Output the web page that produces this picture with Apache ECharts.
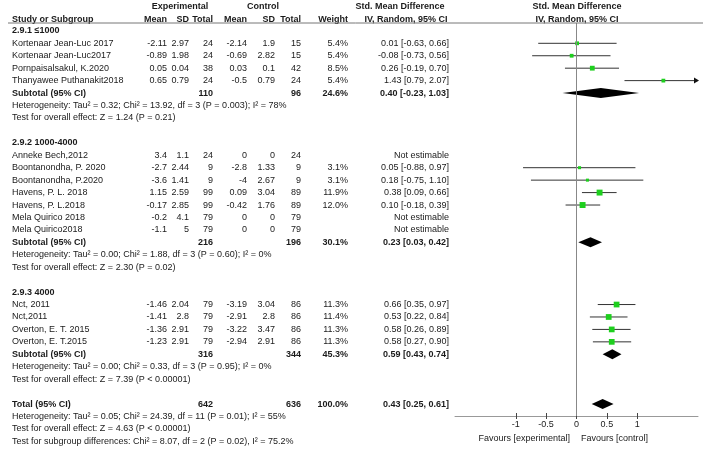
<!DOCTYPE html>
<html><head><meta charset="utf-8">
<script src="https://cdn.jsdelivr.net/npm/echarts@6/dist/echarts.min.js"></script>
<style>html,body{margin:0;padding:0;background:#fff}#c{width:708px;height:453px}</style>
</head><body><div id="c"></div>
<script>
// ---------------- data ----------------
const groupTitles = ['2.9.1 \u22641000', '2.9.2 1000-4000', '2.9.3 4000'];
const studyGroup = [0,0,0,0,1,1,1,1,1,1,1,2,2,2,2];
const studyNames = ['Kortenaar Jean-Luc 2017','Kortenaar Jean-Luc2017','Pornpaisalsakul, K.2020','Thanyawee Puthanakit2018',
  'Anneke Bech,2012','Boontanondha, P. 2020','Boontanondha, P.2020','Havens, P. L. 2018','Havens, P. L.2018','Mela Quirico 2018','Mela Quirico2018',
  'Nct, 2011','Nct,2011','Overton, E. T. 2015','Overton, E. T.2015'];
const expMean  = [-2.11,-0.89,0.05,0.65, 3.4,-2.7,-3.6,1.15,-0.17,-0.2,-1.1, -1.46,-1.41,-1.36,-1.23];
const expSD    = [2.97,1.98,0.04,0.79, 1.1,2.44,1.41,2.59,2.85,4.1,5, 2.04,2.8,2.91,2.91];
const expTotal = [24,24,38,24, 24,9,9,99,99,79,79, 79,79,79,79];
const ctlMean  = [-2.14,-0.69,0.03,-0.5, 0,-2.8,-4,0.09,-0.42,0,0, -3.19,-2.91,-3.22,-2.94];
const ctlSD    = [1.9,2.82,0.1,0.79, 0,1.33,2.67,3.04,1.76,0,0, 3.04,2.8,3.47,2.91];
const ctlTotal = [15,15,42,24, 24,9,9,89,89,79,79, 86,86,86,86];
const weight   = [5.4,5.4,8.5,5.4, null,3.1,3.1,11.9,12.0,null,null, 11.3,11.4,11.3,11.3];
const smd      = [0.01,-0.08,0.26,1.43, null,0.05,0.18,0.38,0.10,null,null, 0.66,0.53,0.58,0.58];
const ciLow    = [-0.63,-0.73,-0.19,0.79, null,-0.88,-0.75,0.09,-0.18,null,null, 0.35,0.22,0.26,0.27];
const ciHigh   = [0.66,0.56,0.70,2.07, null,0.97,1.10,0.66,0.39,null,null, 0.97,0.84,0.89,0.90];

const subExpTotal = [110,216,316];
const subCtlTotal = [96,196,344];
const subWeight   = [24.6,30.1,45.3];
const subSmd      = [0.40,0.23,0.59];
const subLow      = [-0.23,0.03,0.43];
const subHigh     = [1.03,0.42,0.74];
const subHet = ['Heterogeneity: Tau\u00b2 = 0.32; Chi\u00b2 = 13.92, df = 3 (P = 0.003); I\u00b2 = 78%',
                'Heterogeneity: Tau\u00b2 = 0.00; Chi\u00b2 = 1.88, df = 3 (P = 0.60); I\u00b2 = 0%',
                'Heterogeneity: Tau\u00b2 = 0.00; Chi\u00b2 = 0.33, df = 3 (P = 0.95); I\u00b2 = 0%'];
const subTest = ['Test for overall effect: Z = 1.24 (P = 0.21)',
                 'Test for overall effect: Z = 2.30 (P = 0.02)',
                 'Test for overall effect: Z = 7.39 (P < 0.00001)'];

const totalExp = 642, totalCtl = 636, totalWeight = 100.0;
const totalSmd = 0.43, totalLow = 0.25, totalHigh = 0.61;
const totalHet = 'Heterogeneity: Tau\u00b2 = 0.05; Chi\u00b2 = 24.39, df = 11 (P = 0.01); I\u00b2 = 55%';
const totalTest = 'Test for overall effect: Z = 4.63 (P < 0.00001)';
const subgroupTest = 'Test for subgroup differences: Chi\u00b2 = 8.07, df = 2 (P = 0.02), I\u00b2 = 75.2%';

const xTicks = [-1, -0.5, 0, 0.5, 1];
const favoursLeft = 'Favours [experimental]';
const favoursRight = 'Favours [control]';

// ---------------- layout ----------------
const col = {label:12, eMean:167, eSD:189, eTot:213, cMean:247, cSD:275, cTot:301, w:348, ci:449};
const textItems = [], studyData = [], diamondData = [];
function addT(x, r, text, align, bold){ textItems.push({x:x, r:r, text:text, align:align||'right', bold:!!bold}); }
function fmtCI(e,l,h){ return e.toFixed(2)+' ['+l.toFixed(2)+', '+h.toFixed(2)+']'; }

// headers
const hr1 = -0.94, hr2 = 0.07;
addT(180, hr1, 'Experimental', 'center', true);
addT(263, hr1, 'Control', 'center', true);
addT(400, hr1, 'Std. Mean Difference', 'center', true);
addT(577, hr1, 'Std. Mean Difference', 'center', true);
addT(col.label, hr2, 'Study or Subgroup', 'left', true);
addT(col.eMean, hr2, 'Mean', 'right', true);
addT(col.eSD, hr2, 'SD', 'right', true);
addT(col.eTot, hr2, 'Total', 'right', true);
addT(col.cMean, hr2, 'Mean', 'right', true);
addT(col.cSD, hr2, 'SD', 'right', true);
addT(col.cTot, hr2, 'Total', 'right', true);
addT(col.w, hr2, 'Weight', 'right', true);
addT(406, hr2, 'IV, Random, 95% CI', 'center', true);
addT(577, hr2, 'IV, Random, 95% CI', 'center', true);

let row = 1;
for (let g = 0; g < groupTitles.length; g++) {
  addT(col.label, row, groupTitles[g], 'left', true); row++;
  for (let i = 0; i < studyNames.length; i++) {
    if (studyGroup[i] !== g) continue;
    addT(col.label, row, studyNames[i], 'left');
    addT(col.eMean, row, String(expMean[i]));
    addT(col.eSD, row, String(expSD[i]));
    addT(col.eTot, row, String(expTotal[i]));
    addT(col.cMean, row, String(ctlMean[i]));
    addT(col.cSD, row, String(ctlSD[i]));
    addT(col.cTot, row, String(ctlTotal[i]));
    if (weight[i] != null) addT(col.w, row, weight[i].toFixed(1)+'%');
    if (smd[i] != null) {
      addT(col.ci, row, fmtCI(smd[i], ciLow[i], ciHigh[i]));
      studyData.push([smd[i], row, ciLow[i], ciHigh[i], weight[i]]);
    } else addT(col.ci, row, 'Not estimable');
    row++;
  }
  addT(col.label, row, 'Subtotal (95% CI)', 'left', true);
  addT(col.eTot, row, String(subExpTotal[g]), 'right', true);
  addT(col.cTot, row, String(subCtlTotal[g]), 'right', true);
  addT(col.w, row, subWeight[g].toFixed(1)+'%', 'right', true);
  addT(col.ci, row, fmtCI(subSmd[g], subLow[g], subHigh[g]), 'right', true);
  diamondData.push([subSmd[g], row, subLow[g], subHigh[g]]);
  row++;
  addT(col.label, row, subHet[g], 'left'); row++;
  addT(col.label, row, subTest[g], 'left'); row++;
  row++;
}
addT(col.label, row, 'Total (95% CI)', 'left', true);
addT(col.eTot, row, String(totalExp), 'right', true);
addT(col.cTot, row, String(totalCtl), 'right', true);
addT(col.w, row, totalWeight.toFixed(1)+'%', 'right', true);
addT(col.ci, row, fmtCI(totalSmd, totalLow, totalHigh), 'right', true);
diamondData.push([totalSmd, row, totalLow, totalHigh]);
row++;
addT(col.label, row, totalHet, 'left'); row++;
addT(col.label, row, totalTest, 'left'); row++;
addT(col.label, row, subgroupTest, 'left');
addT(570, 33.73, favoursLeft, 'right');
addT(581, 33.73, favoursRight, 'left');

const FONT = '"Liberation Sans", Arial, sans-serif';
const TXT = '#1a1a1a';
const chart = echarts.init(document.getElementById('c'), null, {renderer:'canvas'});
chart.setOption({
  animation: false,
  backgroundColor: '#fff',
  grid: [
    {left:0, right:0, top:0, bottom:0},
    {left:455, right:10, top:23, bottom:37}
  ],
  xAxis: [
    {gridIndex:0, type:'value', min:0, max:708, show:false},
    {gridIndex:1, type:'value', min:-2, max:2, position:'bottom',
     splitLine:{show:false},
     axisLine:{show:true, lineStyle:{color:'#999', width:1}},
     axisTick:{show:true, customValues:xTicks, length:3, lineStyle:{color:'#444'}},
     axisLabel:{show:true, customValues:xTicks, margin:4, fontSize:9, fontFamily:FONT, color:TXT,
       formatter:function(v){ return String(v); }}},
    {gridIndex:1, type:'value', min:-2, max:2, position:'bottom', offset:0,
     splitLine:{show:false}, axisLine:{show:false}, axisLabel:{show:false},
     axisTick:{show:true, inside:true, customValues:xTicks, length:3, lineStyle:{color:'#444'}}}
  ],
  yAxis: [
    {gridIndex:0, type:'value', inverse:true, min:-1.4807, max:34.934, show:false},
    {gridIndex:1, type:'value', inverse:true, min:0.3682, max:31.96, show:false}
  ],
  graphic: [
    {type:'line', shape:{x1:8, y1:23, x2:703, y2:23}, style:{stroke:'#777', lineWidth:1}, z:10}
  ],
  series: [
    {type:'custom', xAxisIndex:0, yAxisIndex:0, silent:true,
     data: textItems.map(t => [t.x, t.r]),
     renderItem: function(params, api){
       const t = textItems[params.dataIndex];
       const p = api.coord([t.x, t.r]);
       return {type:'text', x:p[0], y:p[1], style:{text:t.text, fill:TXT,
         font:(t.bold?'bold ':'')+'9px '+FONT, align:t.align, verticalAlign:'middle',
         textAlign:t.align, textVerticalAlign:'middle'}};
     }},
    {type:'custom', xAxisIndex:1, yAxisIndex:1, silent:true,
     data: studyData,
     renderItem: function(params, api){
       const e = api.value(0), r = api.value(1), lo = api.value(2), hi = api.value(3), w = api.value(4);
       const pl = api.coord([lo, r]), ph = api.coord([Math.min(hi, 2), r]), pc = api.coord([e, r]);
       const s = 2 + 0.33 * w;
       const ch = [
         {type:'line', shape:{x1:pl[0], y1:pl[1], x2:ph[0], y2:ph[1]}, style:{stroke:'#333', lineWidth:1}},
         {type:'rect', shape:{x:pc[0]-s/2, y:pc[1]-s/2, width:s, height:s}, style:{fill:'#1ecf1e'}}
       ];
       if (hi > 2) ch.push({type:'polygon', shape:{points:[[ph[0]-4, ph[1]-3],[ph[0]+1, ph[1]],[ph[0]-4, ph[1]+3]]}, style:{fill:'#111'}});
       return {type:'group', children:ch};
     }},
    {type:'custom', xAxisIndex:1, yAxisIndex:1, silent:true,
     data: diamondData,
     renderItem: function(params, api){
       const e = api.value(0), r = api.value(1), lo = api.value(2), hi = api.value(3);
       const pl = api.coord([lo, r]), ph = api.coord([hi, r]), pc = api.coord([e, r]);
       const h = 5;
       return {type:'polygon', shape:{points:[[pl[0], pl[1]],[pc[0], pc[1]-h],[ph[0], ph[1]],[pc[0], pc[1]+h]]},
         style:{fill:'#000'}};
     },
     markLine:{silent:true, symbol:['none','none'], label:{show:false},
       lineStyle:{color:'#888', type:'solid', width:1},
       data:[{xAxis:0}]}}
  ]
});
</script></body></html>
